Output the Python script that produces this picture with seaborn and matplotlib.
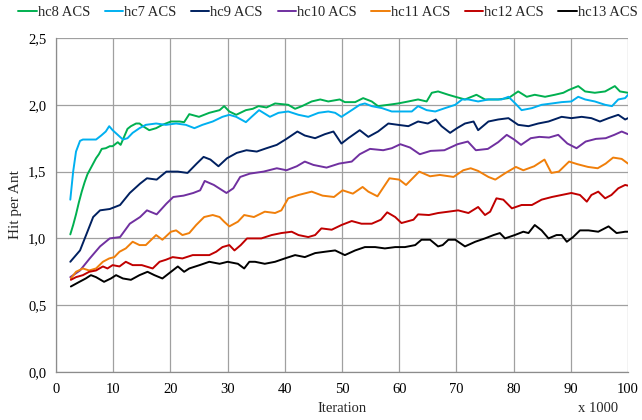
import matplotlib
matplotlib.use("Agg")
import matplotlib.pyplot as plt
import seaborn as sns
import pandas as pd

# Hit per ant over iterations (x 1000) for each heuristic ACS run
hc8_x = [2.5, 3, 3.5, 4, 4.5, 5, 5.5, 6, 6.5, 7, 7.5, 8, 8.7, 9.4, 9.9, 10.8, 11.3, 11.9, 12.5, 13.1,
         14, 14.6, 15.2, 16.3, 17.5, 18.6, 20.1, 21.6, 22.4, 23.3, 25, 26.8, 28.6, 29.4, 30.3, 31.5, 33.2,
         34.4, 35.4, 36.8, 38.3, 40.6, 41.8, 43, 44.7, 46.2, 47.6, 49.6, 50.5, 52.3, 53.7, 55.2, 56.3, 58.1,
         59.8, 61.6, 63.3, 64.8, 65.7, 66.8, 68.6, 69.8, 71.5, 73.5, 75, 77.3, 79.1, 80.8, 82.3, 83.7, 85.5,
         87.2, 88.7, 89.6, 91.3, 92.5, 94.2, 96, 97.7, 98.6, 100]
hc8_y = [1.03, 1.10, 1.18, 1.27, 1.35, 1.42, 1.48, 1.52, 1.56, 1.60, 1.63, 1.67, 1.675, 1.69, 1.69, 1.72,
         1.70, 1.76, 1.82, 1.84, 1.86, 1.86, 1.84, 1.81, 1.825, 1.85, 1.875, 1.875, 1.87, 1.93, 1.91, 1.94,
         1.96, 1.99, 1.95, 1.925, 1.96, 1.97, 1.99, 1.98, 2.01, 2.0, 1.97, 1.99, 2.025, 2.04, 2.025, 2.04,
         2.02, 2.02, 2.05, 2.025, 1.99, 2.0, 2.01, 2.025, 2.04, 2.025, 2.09, 2.10, 2.075, 2.06, 2.04, 2.075,
         2.04, 2.04, 2.05, 2.10, 2.06, 2.075, 2.06, 2.075, 2.09, 2.11, 2.14, 2.10, 2.09, 2.10, 2.14, 2.10, 2.09]

hc7_x = [2.5, 3, 3.5, 4.2, 4.7, 5.8, 7, 7.9, 8.7, 9.3, 9.9, 10.8, 11.7, 12.5, 13.4, 14.6, 15.7, 17.5, 19.2,
         21, 22.7, 24.2, 25.6, 27.4, 29.1, 30.3, 31.5, 33.2, 34.2, 35.5, 37.4, 38.9, 40.6, 42.4, 44.1, 45.9,
         47.6, 48.8, 49.9, 51.7, 53.1, 54, 55.2, 57, 58.7, 60.4, 62.2, 63.3, 64.8, 66.3, 68, 69.8, 71, 72.1,
         73.8, 75.6, 77.9, 79.1, 80.3, 81.4, 83.2, 84.9, 86.7, 88.4, 90.1, 91.3, 92.5, 94.2, 96, 97.2, 98.3,
         99.5, 100]
hc7_y = [1.29, 1.50, 1.65, 1.73, 1.74, 1.74, 1.74, 1.77, 1.80, 1.84, 1.81, 1.775, 1.74, 1.75, 1.79, 1.825,
         1.85, 1.86, 1.85, 1.86, 1.85, 1.825, 1.85, 1.875, 1.91, 1.925, 1.91, 1.87, 1.91, 1.96, 1.91, 1.94,
         1.95, 1.925, 1.91, 1.94, 1.95, 1.94, 1.91, 1.96, 2.0, 2.01, 1.99, 1.975, 1.95, 1.95, 1.95, 1.99,
         1.96, 1.95, 1.975, 2.0, 2.04, 2.04, 2.025, 2.04, 2.04, 2.06, 2.01, 1.96, 1.975, 2.0, 2.01, 2.02,
         2.025, 2.06, 2.04, 2.025, 2.0, 1.99, 2.04, 2.05, 2.075]

hc9_x = [2.5, 4.2, 5.4, 6.5, 7.7, 9.4, 11.2, 12.9, 14.7, 15.9, 17.6, 19.3, 21.3, 23, 24.6, 25.8, 27, 28.4,
         29.9, 31.6, 33.3, 35.1, 36.8, 38.6, 40.3, 42.2, 43.5, 45.3, 47, 48.5, 49.9, 51.1, 53.1, 54.6, 56.3,
         58.1, 59.8, 61.6, 63.3, 65, 66.4, 67.4, 68.9, 70.1, 71.5, 73, 73.8, 75.6, 77.3, 79.1, 80.8, 82.6,
         84.3, 86.1, 88.4, 90.1, 91.9, 93.6, 95.1, 96.6, 98.3, 99.5, 100]
hc9_y = [0.825, 0.91, 1.04, 1.16, 1.21, 1.22, 1.25, 1.34, 1.41, 1.45, 1.44, 1.50, 1.50, 1.49, 1.56, 1.61,
         1.59, 1.54, 1.60, 1.64, 1.66, 1.65, 1.675, 1.70, 1.745, 1.80, 1.77, 1.75, 1.78, 1.80, 1.71, 1.75,
         1.81, 1.76, 1.80, 1.86, 1.85, 1.84, 1.875, 1.86, 1.89, 1.84, 1.79, 1.825, 1.86, 1.875, 1.81, 1.875,
         1.89, 1.90, 1.85, 1.84, 1.86, 1.875, 1.91, 1.90, 1.91, 1.90, 1.875, 1.90, 1.925, 1.89, 1.90]

hc10_x = [2.5, 4.2, 5.9, 7.7, 9.4, 11.2, 12.9, 14.7, 15.9, 17.6, 19.3, 20.5, 22.3, 24, 25.2, 26, 27.6, 29.8,
          31, 32.2, 33.9, 36.3, 38.6, 40.3, 42.1, 43.5, 45, 47.3, 49.5, 51.7, 53.1, 54.9, 57.2, 58.7, 60.2,
          61.9, 63.6, 65.5, 67.9, 70.2, 72, 73.4, 75.5, 77.3, 78.8, 80.1, 81.3, 83, 84.5, 86.2, 87.8, 89.4,
          91, 92.6, 94.4, 96.1, 97.6, 98.9, 100]
hc10_y = [0.71, 0.76, 0.85, 0.94, 1.0, 1.01, 1.11, 1.16, 1.21, 1.18, 1.26, 1.31, 1.32, 1.34, 1.36, 1.43,
          1.40, 1.34, 1.375, 1.46, 1.485, 1.50, 1.525, 1.51, 1.54, 1.575, 1.55, 1.53, 1.56, 1.575, 1.63,
          1.67, 1.66, 1.675, 1.705, 1.68, 1.63, 1.655, 1.66, 1.705, 1.725, 1.66, 1.67, 1.72, 1.775, 1.74,
          1.70, 1.75, 1.76, 1.755, 1.775, 1.71, 1.675, 1.725, 1.745, 1.75, 1.775, 1.80, 1.78]

hc11_x = [2.6, 3.5, 4.7, 5.8, 7, 8.2, 9.3, 10.2, 11.1, 12.2, 13.4, 14.6, 15.7, 16.9, 17.5, 18.6, 20.1, 21,
          22.1, 23.3, 24.5, 25.9, 27.4, 28.6, 29.4, 30.3, 31.8, 32.9, 34.6, 36.5, 38.3, 39.4, 40.6, 42.4,
          44.7, 46.6, 48.6, 50.1, 51.9, 53.6, 54.6, 56.2, 58.3, 60, 61.2, 63.5, 65.4, 67.1, 69.5, 71.2, 72.5,
          73.8, 75.6, 76.8, 78.6, 80.4, 81.7, 83.6, 85.4, 86.6, 87.9, 89.7, 91.2, 93, 94.7, 96.1, 97.4, 98.9,
          100]
hc11_y = [0.70, 0.75, 0.775, 0.76, 0.775, 0.825, 0.85, 0.86, 0.90, 0.925, 0.975, 0.95, 0.95, 1.0, 1.025,
          0.99, 1.05, 1.06, 1.025, 1.04, 1.10, 1.16, 1.175, 1.16, 1.125, 1.09, 1.125, 1.175, 1.16, 1.20,
          1.19, 1.21, 1.30, 1.325, 1.35, 1.32, 1.31, 1.36, 1.335, 1.385, 1.35, 1.315, 1.45, 1.44, 1.40, 1.50,
          1.465, 1.475, 1.46, 1.51, 1.525, 1.505, 1.46, 1.44, 1.49, 1.535, 1.51, 1.54, 1.59, 1.49, 1.50,
          1.575, 1.555, 1.535, 1.525, 1.56, 1.605, 1.595, 1.56]

hc12_x = [2.6, 3.5, 4.7, 5.8, 7, 8.2, 9, 9.9, 11.1, 12.2, 13.4, 15, 16.9, 18.1, 19.2, 20.4, 22.1, 23.9,
          25.6, 26.8, 28, 29.1, 30.3, 31.2, 32.3, 33.4, 35.9, 37.7, 39.4, 41.2, 42.4, 44.1, 45.3, 46.4, 48.2,
          49.9, 51.7, 53.4, 55.2, 56.8, 57.9, 59.3, 60.4, 62.5, 63.3, 65.2, 66.8, 68.6, 70.3, 72.1, 73.8, 75,
          75.9, 77, 78.2, 79.7, 81.4, 83.2, 84.9, 86.7, 88.4, 90.1, 91.6, 92.8, 93.6, 94.8, 96, 97.1, 98.3,
          99.5, 100]
hc12_y = [0.69, 0.71, 0.725, 0.75, 0.76, 0.79, 0.775, 0.80, 0.79, 0.825, 0.80, 0.80, 0.775, 0.825, 0.84,
          0.86, 0.85, 0.875, 0.875, 0.875, 0.90, 0.935, 0.95, 0.91, 0.95, 1.0, 1.0, 1.025, 1.04, 1.05, 1.025,
          1.01, 1.025, 1.075, 1.065, 1.10, 1.13, 1.11, 1.11, 1.14, 1.195, 1.16, 1.115, 1.14, 1.18, 1.175,
          1.19, 1.20, 1.21, 1.19, 1.235, 1.175, 1.20, 1.30, 1.29, 1.225, 1.25, 1.25, 1.29, 1.31, 1.325, 1.34,
          1.325, 1.275, 1.325, 1.35, 1.30, 1.325, 1.375, 1.40, 1.395]

hc13_x = [2.6, 4.1, 5.2, 6.1, 7, 8.4, 9.6, 10.5, 11.7, 13.1, 14.6, 16, 17.2, 18.6, 20.1, 21.3, 22.4, 23.3,
          25.1, 26.8, 28.6, 30, 31.8, 32.9, 33.8, 34.8, 36.5, 38.3, 40, 41.8, 43.5, 45.3, 47, 48.8, 50.5,
          52.3, 54, 55.8, 57.5, 59.3, 61, 62.8, 63.9, 65.4, 66.8, 67.6, 68.6, 69.8, 71.5, 73.3, 75, 76.5,
          77.6, 78.5, 80.2, 81.7, 82.6, 83.7, 84.9, 86.1, 87.5, 88.4, 89.3, 90.4, 91.6, 93.1, 94.8, 96.6, 98,
          99.5, 100]
hc13_y = [0.64, 0.675, 0.70, 0.725, 0.71, 0.675, 0.70, 0.725, 0.70, 0.69, 0.725, 0.75, 0.725, 0.70, 0.75,
          0.79, 0.75, 0.775, 0.80, 0.825, 0.81, 0.825, 0.81, 0.775, 0.825, 0.825, 0.81, 0.825, 0.85, 0.875,
          0.86, 0.89, 0.90, 0.91, 0.875, 0.91, 0.935, 0.935, 0.925, 0.935, 0.935, 0.95, 0.99, 0.99, 0.94,
          0.95, 0.99, 0.99, 0.94, 0.975, 1.0, 1.025, 1.04, 1.0, 1.025, 1.05, 1.04, 1.10, 1.06, 1.0, 1.025,
          1.025, 0.975, 1.01, 1.06, 1.06, 1.05, 1.09, 1.04, 1.05, 1.05]

series_names = ["hc8 ACS", "hc7 ACS", "hc9 ACS", "hc10 ACS", "hc11 ACS", "hc12 ACS", "hc13 ACS"]
series_colors = ["#00B050", "#00B0F0", "#002060", "#7030A0", "#F07F0A", "#C00000", "#000000"]

y_ticks = [0.0, 0.5, 1.0, 1.5, 2.0, 2.5]
y_tick_labels = ["0,0", "0,5", "1,0", "1,5", "2,0", "2,5"]
x_ticks = [0, 10, 20, 30, 40, 50, 60, 70, 80, 90, 100]

frames = []
for name, xs, ys in zip(series_names,
                        [hc8_x, hc7_x, hc9_x, hc10_x, hc11_x, hc12_x, hc13_x],
                        [hc8_y, hc7_y, hc9_y, hc10_y, hc11_y, hc12_y, hc13_y]):
    frames.append(pd.DataFrame({"Iteration": xs, "Hit per Ant": ys, "run": name}))
df = pd.concat(frames, ignore_index=True)

sns.set_theme(style="white")
plt.rcParams["font.family"] = ["Liberation Serif", "DejaVu Serif"]

FS = 10.5

fig = plt.figure(figsize=(6.42, 4.20), dpi=100)
ax = fig.add_axes([56 / 642, 48 / 420, 572 / 642, 334 / 420])

sns.lineplot(data=df, x="Iteration", y="Hit per Ant", hue="run", hue_order=series_names,
             palette=dict(zip(series_names, series_colors)), estimator=None, sort=False,
             linewidth=1.4, ax=ax, legend=False)

ax.set_xlim(0, 100)
ax.set_ylim(0, 2.5)
ax.set_xticks(x_ticks)
ax.set_xticklabels([str(t) for t in x_ticks])
ax.set_yticks(y_ticks)
ax.set_yticklabels(y_tick_labels)
ax.grid(True, color="#A0A0A0", linewidth=0.9)
ax.set_axisbelow(True)
for side in ["top", "right"]:
    ax.spines[side].set_visible(False)
for side in ["left", "bottom"]:
    ax.spines[side].set_color("#8C8C8C")
    ax.spines[side].set_linewidth(0.9)
ax.tick_params(axis="both", direction="out", length=4, width=0.9, color="#8C8C8C",
               labelsize=FS, labelcolor="#000000", pad=3)
ax.tick_params(axis="x", pad=4)

ax.set_xlabel("Iteration", fontsize=FS)
ax.set_ylabel("Hit per Ant", fontsize=FS + 0.5)
ax.xaxis.set_label_coords(0.5, -36 / 334, transform=ax.transAxes)
ax.yaxis.set_label_coords(-41 / 572, 0.5, transform=ax.transAxes)
ax.xaxis.label.set_verticalalignment("center")
ax.yaxis.label.set_verticalalignment("center")
fig.text(598 / 642, 1 - 408 / 420, "x 1000", fontsize=FS, ha="center", va="center")

handles = [plt.Line2D([], [], color=c, linewidth=1.4) for c in series_colors]
fig.legend(handles, series_names, loc="center", bbox_to_anchor=(328 / 642, 1 - 12 / 420), ncol=7,
           frameon=False, fontsize=FS, handlelength=1.25, handletextpad=0.08, columnspacing=1.0,
           borderaxespad=0)

fig.savefig("out.png", dpi=100)
